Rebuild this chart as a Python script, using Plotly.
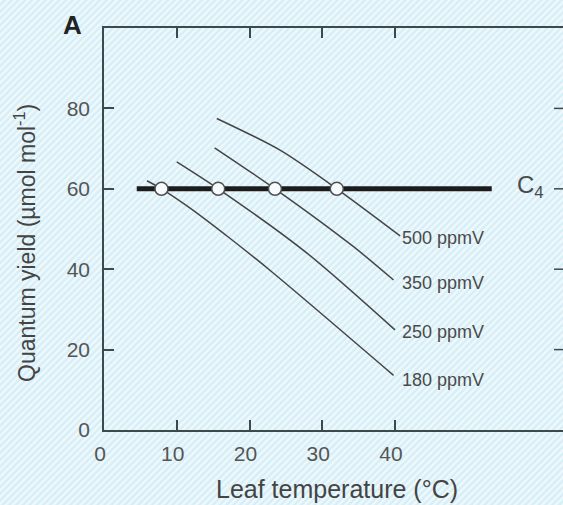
import base64
import plotly.graph_objects as go

# ---- data ----
t_180 = [5.9, 7.9, 11.6, 17.3, 23.3, 39.8]
y_180 = [62.0, 60.0, 55.5, 47.7, 39.0, 13.6]
t_250 = [10.0, 15.7, 27.9, 40.0]
y_250 = [66.7, 60.0, 44.0, 24.9]
t_350 = [15.2, 23.5, 34.3, 39.8]
y_350 = [70.2, 60.0, 45.6, 37.3]
t_500 = [15.5, 24.2, 32.0, 40.7]
y_500 = [77.5, 69.6, 60.0, 48.3]
curve_names = ["180 ppmV", "250 ppmV", "350 ppmV", "500 ppmV"]
label_y = [12.4, 24.5, 36.6, 47.8]
label_x = 40.7

c4_t = [4.5, 53.3]
c4_y = [60, 60]
cross_t = [7.9, 15.7, 23.5, 32.0]
cross_y = [60, 60, 60, 60]

x_ticks = [0, 10, 20, 30, 40]
y_ticks = [0, 20, 40, 60, 80]
right_ticks = [20, 40, 60, 80]

W, H = 563, 505
ML, MR, MT, MB = 104, 0, 28, 75
PW, PH = W - ML - MR, H - MT - MB

FONT = "Liberation Sans, Arial, sans-serif"
LINE = "#454545"
AXIS = "#3d4a4c"

fig = go.Figure()

curves = [(t_180, y_180), (t_250, y_250), (t_350, y_350), (t_500, y_500)]
for (tx, ty), name, ly in zip(curves, curve_names, label_y):
    fig.add_trace(go.Scatter(x=tx, y=ty, mode="lines", name=name,
                             line=dict(color=LINE, width=1.5, shape="spline", smoothing=0.8),
                             showlegend=False, hoverinfo="skip"))
    fig.add_annotation(x=label_x, y=ly, text=name, showarrow=False, xanchor="left",
                       yanchor="middle", font=dict(family=FONT, size=18, color="#4a4a4a"))

fig.add_trace(go.Scatter(x=c4_t, y=c4_y, mode="lines", line=dict(color="#1c1c1c", width=5),
                         showlegend=False, hoverinfo="skip"))
fig.add_trace(go.Scatter(x=cross_t, y=cross_y, mode="markers",
                         marker=dict(size=13, color="#f6fbfd", line=dict(color="#505050", width=1.5)),
                         showlegend=False, hoverinfo="skip"))

fig.add_annotation(x=56.5, y=60.5, text="C<sub>4</sub>", showarrow=False, xanchor="left",
                   yanchor="middle", font=dict(family=FONT, size=24, color="#4a4a4a"))

# right-side inward ticks (right axis line is outside the crop)
for v in right_ticks:
    fig.add_shape(type="line", xref="paper", yref="y", x0=1 - 9 / PW, x1=1, y0=v, y1=v,
                  line=dict(color=AXIS, width=1.5))

# titles and panel letter
fig.add_annotation(xref="paper", yref="paper", x=(25 - ML) / PW, y=(430 - 243) / PH,
                   text="Quantum yield (µmol mol<sup>-1</sup>)", textangle=-90, showarrow=False,
                   xanchor="center", yanchor="middle",
                   font=dict(family=FONT, size=23, color="#444"))
fig.add_annotation(xref="paper", yref="paper", x=(337 - ML) / PW, y=(430 - 489) / PH,
                   text="Leaf temperature (°C)", showarrow=False, xanchor="center", yanchor="middle",
                   font=dict(family=FONT, size=25, color="#444"))
fig.add_annotation(xref="paper", yref="paper", x=(72 - ML) / PW, y=(430 - 25) / PH,
                   text="<b>A</b>", showarrow=False, xanchor="center", yanchor="middle",
                   font=dict(family=FONT, size=26, color="#222"))

# hatched light-blue background
svg = (f"<svg xmlns='http://www.w3.org/2000/svg' width='{W}' height='{H}'>"
       "<defs><pattern id='p' width='4.8' height='4.8' patternUnits='userSpaceOnUse' "
       "patternTransform='rotate(45)'><rect width='4.8' height='4.8' fill='#d6eef7'/>"
       "<rect width='2.4' height='4.8' fill='#eff9fc'/></pattern></defs>"
       f"<rect width='{W}' height='{H}' fill='url(#p)'/></svg>")
src = "data:image/svg+xml;base64," + base64.b64encode(svg.encode()).decode()
fig.add_layout_image(dict(source=src, xref="paper", yref="paper", x=-ML / PW, y=1 + MT / PH,
                          sizex=W / PW, sizey=H / PH, xanchor="left", yanchor="top",
                          sizing="stretch", layer="below"))

fig.update_layout(
    width=W, height=H, margin=dict(l=ML, r=MR, t=MT, b=MB),
    paper_bgcolor="#e3f4f9", plot_bgcolor="rgba(0,0,0,0)",
    font=dict(family=FONT, color="#555"),
    xaxis=dict(range=[0, (W - ML - MR) / 7.275], tickvals=x_ticks, ticks="inside", ticklen=10,
               tickwidth=1.5, tickcolor=AXIS, showline=True, linecolor=AXIS, linewidth=1.5,
               mirror="ticks", showgrid=False, zeroline=False, ticklabelstandoff=4,
               ticklabelshift=-4, tickfont=dict(family=FONT, size=21, color="#555")),
    yaxis=dict(range=[0, 100], tickvals=y_ticks, ticks="inside", ticklen=10, tickwidth=1.5,
               tickcolor=AXIS, showline=True, linecolor=AXIS, linewidth=1.5, showgrid=False,
               zeroline=False, ticklabelstandoff=8,
               tickfont=dict(family=FONT, size=21, color="#555")),
)

fig.write_html("out.html", config={"displayModeBar": False},
               post_script="document.body.style.margin='0';document.body.style.overflow='hidden';")
